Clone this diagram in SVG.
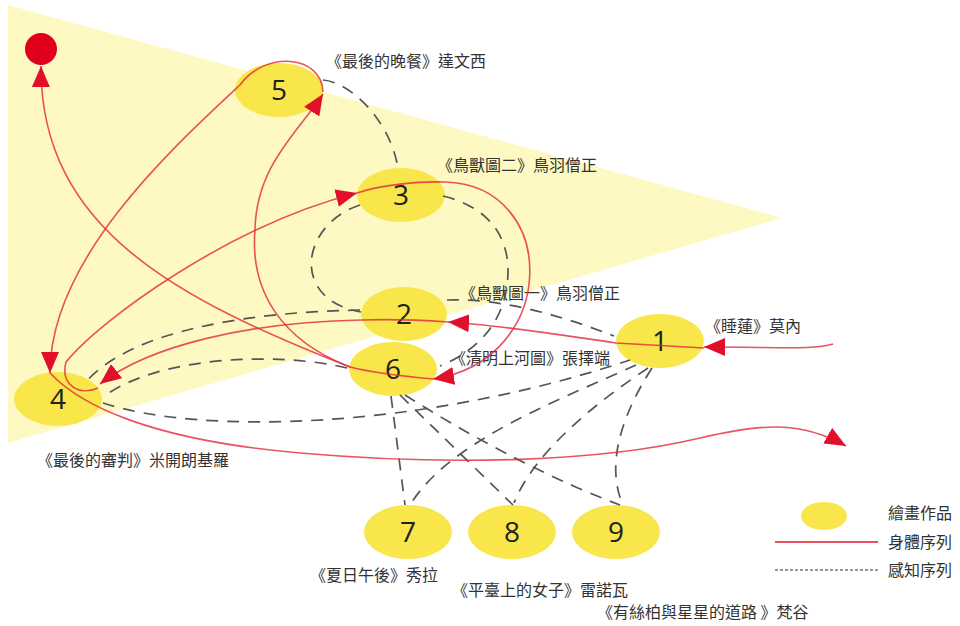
<svg xmlns="http://www.w3.org/2000/svg" width="960" height="626" viewBox="0 0 960 626">
<defs>
<style>
.node{fill:#f9e64a;}
.num{font-family:"Open Sans","Noto Sans",sans-serif;font-size:28px;fill:#222;text-anchor:middle;}
.lbl{font-family:"Noto Sans CJK TC","Noto Sans CJK SC",sans-serif;font-size:16px;fill:#333;}
.body{fill:none;stroke:#e2283c;stroke-opacity:0.8;stroke-width:1.6;}
.perc{fill:none;stroke:#555;stroke-width:1.7;stroke-dasharray:12 9;}
</style>
<marker id="arr" markerUnits="userSpaceOnUse" markerWidth="22" markerHeight="18" refX="21" refY="9" orient="auto">
<path d="M0,0 L21,9 L0,18 z" fill="#e0102a"/>
</marker>
</defs>
<rect width="960" height="626" fill="#ffffff"/>
<polygon points="8,5 782,218 8,443" fill="#fef9c3"/>
<circle cx="41" cy="49" r="16" fill="#e0001c"/>

<g id="n5"><ellipse class="node" cx="279" cy="90" rx="44" ry="27"/><text class="num" x="279" y="100">5</text><text class="lbl" x="326" y="67">《最後的晚餐》達文西</text></g>
<g id="n3"><ellipse class="node" cx="401" cy="195" rx="44" ry="27"/><text class="num" x="401" y="205">3</text><text class="lbl" x="437" y="171">《鳥獸圖二》鳥羽僧正</text></g>
<g id="n2"><ellipse class="node" cx="404" cy="314" rx="43" ry="27"/><text class="num" x="404" y="324">2</text><text class="lbl" x="460" y="299">《鳥獸圖一》鳥羽僧正</text></g>
<g id="n6"><ellipse class="node" cx="393" cy="369" rx="44" ry="27"/><text class="num" x="393" y="379">6</text><text class="lbl" x="450" y="364">《清明上河圖》張擇端</text></g>
<g id="n1"><ellipse class="node" cx="660" cy="341" rx="44" ry="27"/><text class="num" x="660" y="351">1</text><text class="lbl" x="705" y="332">《睡蓮》莫內</text></g>
<g id="n4"><ellipse class="node" cx="58" cy="399" rx="44" ry="27"/><text class="num" x="58" y="409">4</text><text class="lbl" x="37" y="466">《最後的審判》米開朗基羅</text></g>
<g id="n7"><ellipse class="node" cx="408" cy="532" rx="44" ry="27"/><text class="num" x="408" y="542">7</text><text class="lbl" x="310" y="581">《夏日午後》秀拉</text></g>
<g id="n8"><ellipse class="node" cx="512" cy="532" rx="44" ry="27"/><text class="num" x="512" y="542">8</text><text class="lbl" x="452" y="596">《平臺上的女子》雷諾瓦</text></g>
<g id="n9"><ellipse class="node" cx="616" cy="532" rx="44" ry="27"/><text class="num" x="616" y="542">9</text><text class="lbl" x="597" y="618">《有絲柏與星星的道路 》梵谷</text></g>

<g id="connectors">
<path class="perc" d="M323,80 C350,82 390,120 398,168"/>
<path class="perc" d="M360,205 C300,225 290,300 361,312"/>
<path class="perc" d="M443,196 C500,210 512,250 507,285 C503,320 480,350 440,366"/>
<path class="perc" d="M447,300 C500,298 560,315 614,336"/>
<path class="perc" d="M360,310 C250,312 130,330 85,383"/>
<path class="perc" d="M347,368 C280,352 160,355 103,397"/>
<path class="perc" d="M103,403 C200,435 420,430 630,360"/>
<path class="perc" d="M391,396 L405,505"/>
<path class="perc" d="M400,395 L513,505"/>
<path class="perc" d="M405,395 C460,430 540,475 620,505"/>
<path class="perc" d="M636,365 C560,400 450,440 410,505"/>
<path class="perc" d="M648,368 C600,400 535,450 514,503"/>
<path class="perc" d="M652,368 C625,410 605,460 622,503"/>

<path class="body" marker-end="url(#arr)" d="M833,344 C815,350 780,347 704,347"/>
<path class="body" marker-end="url(#arr)" d="M704,348 L616,343 C560,335 500,325 448,322"/>
<path class="body" marker-end="url(#arr)" d="M448,322 C420,320 390,319 362,320 C250,322 150,345 100,384"/>
<path class="body" marker-end="url(#arr)" d="M98,388 C80,396 60,386 66,362 C100,320 230,225 357,193"/>
<path class="body" marker-end="url(#arr)" d="M357,193 C380,185 420,181 445,182 C560,185 560,360 433,379"/>
<path class="body" d="M433,379 C400,376 370,372 350,367"/>
<path class="body" marker-end="url(#arr)" d="M350,367 C180,300 40,230 41,66"/>
<path class="body" marker-end="url(#arr)" d="M350,367 C280,340 250,290 255,230 C256,165 300,130 323,94"/>
<path class="body" marker-end="url(#arr)" d="M323,92 C322,55 265,50 240,85 C170,150 50,260 50,373"/>
<path class="body" marker-end="url(#arr)" d="M50,373 C80,405 150,440 300,453 C450,466 600,462 700,438 C760,424 800,420 846,446"/>
</g>

<g id="legend">
<ellipse class="node" cx="824" cy="516" rx="23" ry="14"/>
<text class="lbl" x="888" y="519">繪畫作品</text>
<line x1="775" y1="542" x2="878" y2="542" stroke="#e8505e" stroke-width="2"/>
<text class="lbl" x="888" y="548">身體序列</text>
<line x1="775" y1="570" x2="878" y2="570" stroke="#777" stroke-width="1.5" stroke-dasharray="3 2"/>
<text class="lbl" x="888" y="576">感知序列</text>
</g>
</svg>
